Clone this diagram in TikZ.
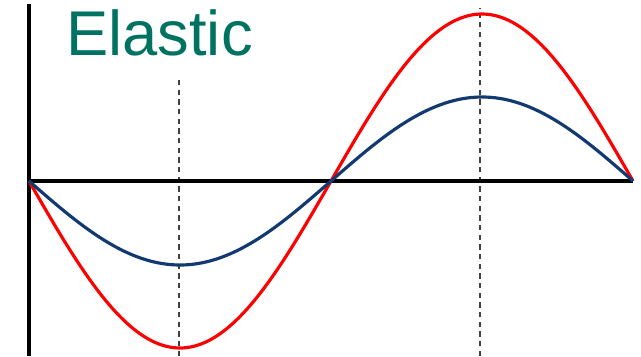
\documentclass[tikz,border=0pt]{standalone}
\usepackage{fontspec}
\setmainfont{Liberation Sans}
\definecolor{titlecol}{RGB}{0, 114, 98}
\definecolor{softcol}{RGB}{18, 58, 112}
\definecolor{stiffcol}{RGB}{255, 0, 0}
\tikzset{
  axis/.style={line width=2pt, black},
  wave/.style={line width=1.8pt, smooth, samples=120, domain=29:633},
  guide/.style={line width=1.1pt, black!75, dash pattern=on 3pt off 2.5pt},
}

\begin{document}
\begin{tikzpicture}[x=0.02cm, y=0.02cm]
  \useasboundingbox (0,0) rectangle (641,356);

  % guide lines at the extrema
  \draw[guide] (179,0) -- (179,277);
  \draw[guide] (480,0) -- (480,348);

  % axes
  \coordinate (origin) at (29,175);
  \coordinate (xend) at (633,175);
  \coordinate (ytop) at (29,352);
  \coordinate (ybot) at (29,0);
  \draw[axis] (ybot) -- (ytop);
  \draw[axis] (origin) -- (xend);

  % the two waves
  \draw[wave, stiffcol] plot ({\x}, {175-167*sin((\x-29)/604*360)});
  \draw[wave, softcol] plot ({\x}, {175-84*sin((\x-29)/604*360)});

  \node[anchor=base west, inner sep=0pt, text=titlecol,
        font=\fontsize{36}{40}\selectfont] (title) at (66,301) {Elastic};
\end{tikzpicture}
\end{document}
